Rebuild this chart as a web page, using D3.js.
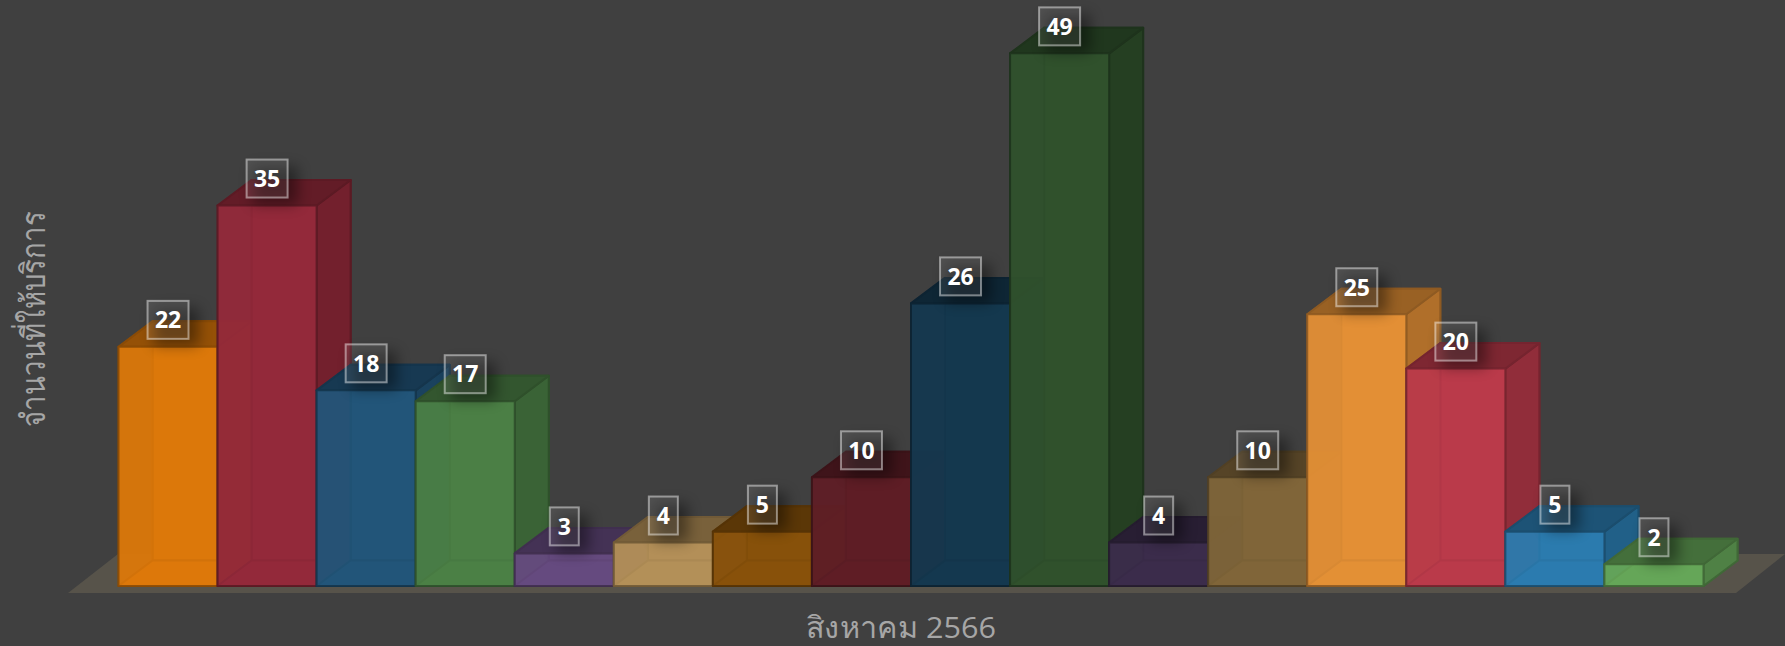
<!DOCTYPE html>
<html>
<head>
<meta charset="utf-8">
<script src="https://cdn.jsdelivr.net/npm/d3@7"></script>
<style>
  html, body { margin: 0; padding: 0; background: #404040; overflow: hidden; }
  text { font-family: "Open Sans", "Noto Sans", sans-serif; }
</style>
</head>
<body>
<div id="chart"></div>
<script>
// values read left to right, the category names are not shown in the picture
const values = [22, 35, 18, 17, 3, 4, 5, 10, 26, 49, 4, 10, 25, 20, 5, 2];
const barColors = ["#dc780a", "#93293a", "#225579", "#4b7f45", "#654a7e", "#b38f58", "#87510a", "#5e1e26",
                   "#14384f", "#30512c", "#3b2c4b", "#806539", "#e28f36", "#ba3a4a", "#2b7bae", "#65a558"];
const xTitle = "สิงหาคม 2566";
const yTitle = "จำนวนที่ให้บริการ";

const width = 1785, height = 646;
const baseY = 586, depthX = 34, depthY = 25.5;

const svg = d3.select("#chart").append("svg")
    .attr("width", width)
    .attr("height", height)
    .style("display", "block");

const x = d3.scaleBand().domain(d3.range(values.length)).range([118.5, 1703.5]);
const y = d3.scaleLinear().domain([0, 50]).range([baseY, baseY - 543.5]);

const defs = svg.append("defs");
defs.append("filter").attr("id", "labelShadow")
    .attr("x", "-60%").attr("y", "-60%").attr("width", "220%").attr("height", "220%")
    .append("feGaussianBlur").attr("stdDeviation", 7);

// floor
svg.append("polygon")
    .attr("points", [[68, 593], [1736, 593], [1785, 554], [118, 554]].join(" "))
    .attr("fill", "#57534a");

const poly = pts => pts.map(p => p.join(",")).join(" ");

const bars = svg.selectAll(".bar")
    .data(values)
    .enter()
    .append("g")
    .attr("class", "bar");

bars.each(function(d, i) {
    let g = d3.select(this);
    let x0 = x(i), x1 = x0 + x.bandwidth();
    let top = y(d), bot = y(0);
    let col = d3.color(barColors[i]);
    let line = col.darker(1.3).formatHex();

    let face = (pts, fill, op) => g.append("polygon")
        .attr("points", poly(pts))
        .attr("fill", fill)
        .attr("fill-opacity", op)
        .attr("stroke", line)
        .attr("stroke-opacity", op)
        .attr("stroke-width", 2)
        .attr("stroke-linejoin", "round");

    // inside faces, seen through the front
    face([[x0 + depthX, top - depthY], [x1 + depthX, top - depthY], [x1 + depthX, bot - depthY], [x0 + depthX, bot - depthY]], col.formatHex(), 1);
    face([[x0, top], [x0 + depthX, top - depthY], [x0 + depthX, bot - depthY], [x0, bot]], col.formatHex(), 0.6);
    face([[x0, bot], [x1, bot], [x1 + depthX, bot - depthY], [x0 + depthX, bot - depthY]], col.brighter(0.05).formatHex(), 1);

    // outside faces
    face([[x1, top], [x1 + depthX, top - depthY], [x1 + depthX, bot - depthY], [x1, bot]], col.darker(0.7).formatHex(), 1);
    face([[x0, top], [x1, top], [x1 + depthX, top - depthY], [x0 + depthX, top - depthY]], col.darker(1.1).formatHex(), 1);
    face([[x0, top], [x1, top], [x1, bot], [x0, bot]], col.formatHex(), 0.88);
});

// value labels on top of everything
const labels = svg.selectAll(".bar-label")
    .data(values)
    .enter()
    .append("g")
    .attr("class", "bar-label")
    .attr("transform", (d, i) => `translate(${x(i) + x.bandwidth() / 2},${y(d) - 27})`);

labels.each(function(d) {
    let g = d3.select(this);
    let w = d >= 10 ? 41 : 29;
    g.append("rect")
        .attr("x", -w / 2 + 6)
        .attr("y", -19 + 7)
        .attr("width", w + 4)
        .attr("height", 38)
        .attr("fill", "#000")
        .attr("opacity", 0.4)
        .attr("filter", "url(#labelShadow)");
    g.append("rect")
        .attr("x", -w / 2)
        .attr("y", -19)
        .attr("width", w)
        .attr("height", 38)
        .attr("fill", "#fff")
        .attr("fill-opacity", 0.09)
        .attr("stroke", "#fff")
        .attr("stroke-opacity", 0.45)
        .attr("stroke-width", 2);
    g.append("text")
        .attr("text-anchor", "middle")
        .attr("dy", "0.36em")
        .style("font-size", "23px")
        .style("font-weight", "700")
        .style("fill", "#fff")
        .text(d);
});

// axis titles
svg.append("text")
    .attr("x", 901)
    .attr("y", 638)
    .attr("text-anchor", "middle")
    .attr("textLength", 190)
    .attr("lengthAdjust", "spacingAndGlyphs")
    .style("font-size", "30px")
    .style("fill", "#a6a6a6")
    .text(xTitle);

svg.append("text")
    .attr("transform", "translate(45,319) rotate(-90)")
    .attr("text-anchor", "middle")
    .attr("textLength", 216)
    .attr("lengthAdjust", "spacingAndGlyphs")
    .style("font-size", "33px")
    .style("fill", "#a6a6a6")
    .text(yTitle);
</script>
</body>
</html>
